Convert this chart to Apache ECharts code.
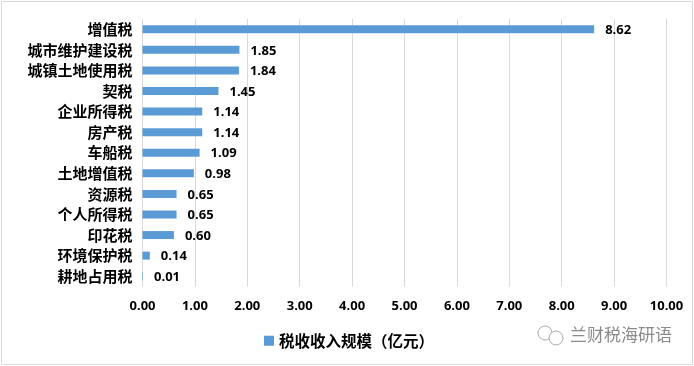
<!DOCTYPE html>
<html>
<head>
<meta charset="utf-8">
<title>税收收入规模</title>
<script src="https://cdn.jsdelivr.net/npm/echarts@6/dist/echarts.min.js"></script>
<style>
	html,body{margin:0;padding:0;background:#fff;}
	#chart{width:694px;height:366px;}
</style>
</head>
<body>
<div id="chart"></div>
<script>
var categories = ['增值税','城市维护建设税','城镇土地使用税','契税','企业所得税','房产税','车船税','土地增值税','资源税','个人所得税','印花税','环境保护税','耕地占用税'];
var values = [8.62,1.85,1.84,1.45,1.14,1.14,1.09,0.98,0.65,0.65,0.60,0.14,0.01];
var seriesName = '税收收入规模（亿元）';
var watermark = '兰财税海研语';

var cjk = '"Noto Sans CJK SC"';
var myChart = echarts.init(document.getElementById('chart'));
var option = {
	animation:false,
	backgroundColor:'#fff',
	grid:{
		left:142.5,
		right:27.5,
		top:19,
		bottom:79.5
	},
	legend:{
		data:[seriesName],
		left:259,
		top:328,
		icon:'rect',
		itemWidth:10,
		itemHeight:10,
		itemGap:6,
		textStyle:{
			color:'#000',
			fontFamily:cjk,
			fontWeight:'bold',
			fontSize:15.5
		}
	},
	xAxis:{
		type:'value',
		min:0,
		max:10,
		interval:1,
		axisLine:{show:false},
		axisTick:{show:false},
		axisLabel:{
			color:'#000',
			fontFamily:'"Open Sans"',
			fontWeight:'bold',
			fontSize:13,
			margin:13,
			formatter:function(v){
				return v.toFixed(2);
			}
		},
		splitLine:{lineStyle:{color:'#d9d9d9',width:1}}
	},
	yAxis:{
		type:'category',
		inverse:true,
		data:categories,
		axisLine:{show:false},
		axisTick:{show:false},
		axisLabel:{
			color:'#000',
			fontFamily:cjk,
			fontWeight:'bold',
			fontSize:15,
			margin:10
		}
	},
	series:[{
		name:seriesName,
		type:'bar',
		barWidth:8,
		itemStyle:{color:'#5b9bd5'},
		label:{
			show:true,
			position:'right',
			distance:11,
			offset:[0,1],
			color:'#000',
			fontFamily:'"Open Sans"',
			fontWeight:'bold',
			fontSize:13,
			formatter:function(p){
				return p.value.toFixed(2);
			}
		},
		data:values
	}],
	graphic:[
		{
			type:'rect',
			shape:{x:1.5,y:1.5,width:691,height:363},
			style:{fill:'none',stroke:'#d9d9d9',lineWidth:1},
			silent:true
		},
		{
			type:'circle',
			shape:{cx:545,cy:333,r:7},
			style:{fill:'#fff',stroke:'#aaa',lineWidth:1},
			silent:true
		},
		{
			type:'circle',
			shape:{cx:556,cy:338,r:7},
			style:{fill:'#fff',stroke:'#aaa',lineWidth:1},
			silent:true
		},
		{
			type:'text',
			left:570,
			top:326,
			style:{
				text:watermark,
				fill:'#8a8a8a',
				font:'17px "Noto Sans CJK SC"'
			},
			silent:true
		}
	]
};
myChart.setOption(option);
</script>
</body>
</html>
